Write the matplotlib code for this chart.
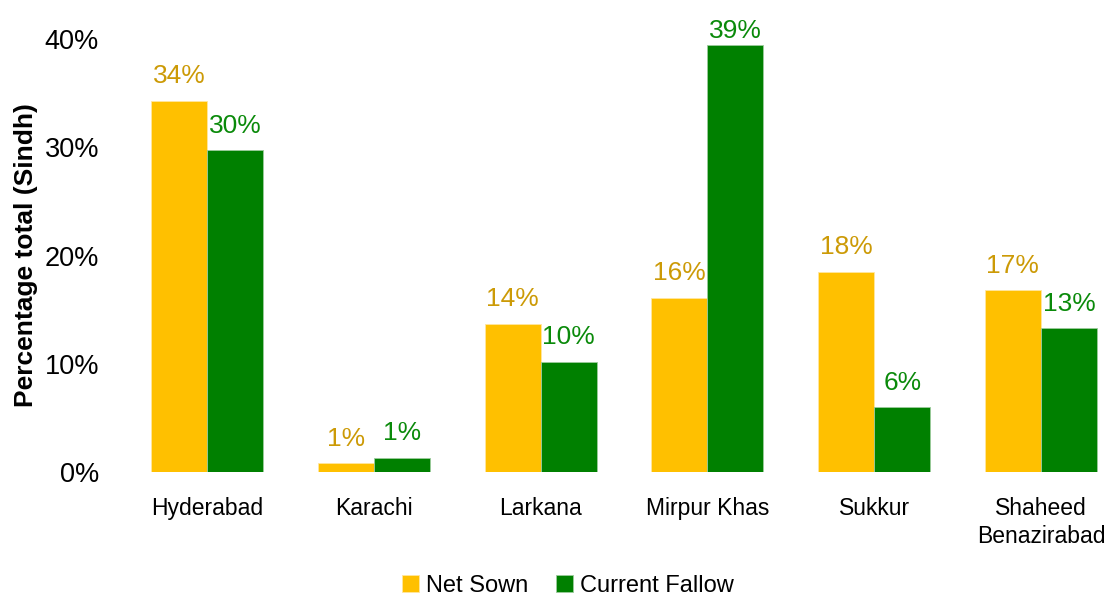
import matplotlib.pyplot as plt
import numpy as np

plt.rcParams['font.family'] = ['Liberation Sans', 'DejaVu Sans']

districts = ['Hyderabad', 'Karachi', 'Larkana', 'Mirpur Khas', 'Sukkur', 'Shaheed\nBenazirabad']
net_sown = [34.3, 0.8, 13.7, 16.1, 18.5, 16.8]
current_fallow = [29.7, 1.3, 10.2, 39.4, 6.0, 13.3]
series_names = ['Net Sown', 'Current Fallow']

yellow = '#FFC000'
green = '#008000'

fig = plt.figure(figsize=(11.05, 5.96), dpi=100)
ax = fig.add_axes([124/1105, (596-472)/596, 1 - 124/1105, (472-39)/596])

x = np.arange(len(districts))
w = 0.336
b1 = ax.bar(x - w/2, net_sown, w, color=yellow, edgecolor='#FFE7A0', linewidth=0.6, label=series_names[0])
b2 = ax.bar(x + w/2, current_fallow, w, color=green, edgecolor='#9CCB9C', linewidth=0.6, label=series_names[1])

# labels sit just above the bars, but are kept inside the plot area (like Excel does)
def add_labels(bars, vals, col):
    for rect, v in zip(bars, vals):
        ax.text(rect.get_x() + rect.get_width()/2, min(v + 1.15, 39.6), f'{v:.0f}%',
                ha='center', va='bottom', fontsize=19, color=col, clip_on=False)

add_labels(b1, net_sown, '#CC9A06')
add_labels(b2, current_fallow, '#0A8A0A')

ax.set_xlim(-0.498, 5.384)
ax.set_ylim(0, 40)
ax.set_yticks([0, 10, 20, 30, 40])
ax.set_yticklabels(['0%', '10%', '20%', '30%', '40%'], fontsize=19.5)
ax.set_xticks(x)
ax.set_xticklabels(districts, fontsize=16.5, linespacing=1.3)
ax.tick_params(axis='y', length=0, pad=18)
ax.tick_params(axis='x', length=0, pad=18)
for s in ax.spines.values():
    s.set_visible(False)
ax.set_ylabel('Percentage total (Sindh)', fontsize=19, fontweight='bold', labelpad=5)

fig.legend(loc='center', bbox_to_anchor=(568/1105, 1 - 586/596), ncol=2, frameon=False,
           fontsize=17, handlelength=0.7, handleheight=0.7, handletextpad=0.3, columnspacing=1.2)

fig.savefig('out.png', dpi=100)
